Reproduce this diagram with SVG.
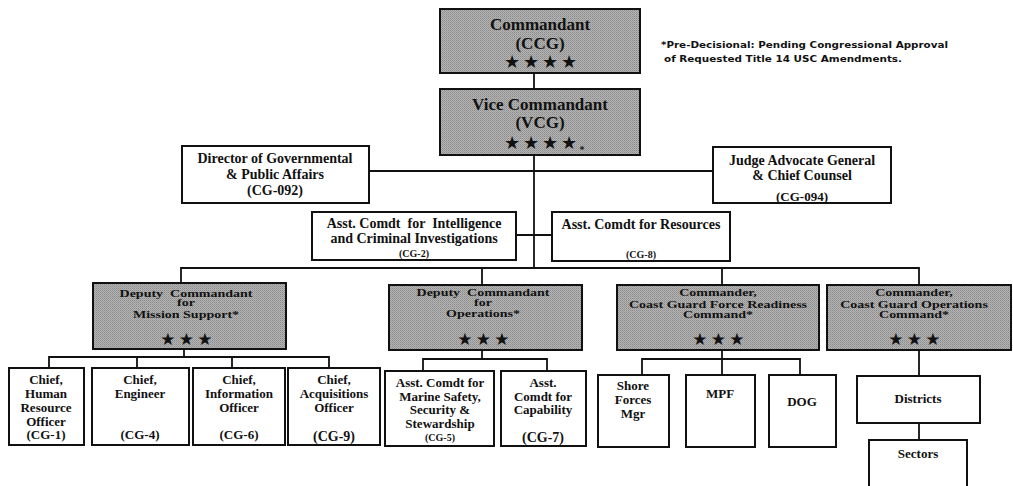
<svg xmlns="http://www.w3.org/2000/svg" width="1013" height="486" viewBox="0 0 1013 486">
<defs>
<pattern id="ht" width="2" height="2" patternUnits="userSpaceOnUse">
<rect width="2" height="2" fill="#b4b4b4"/>
<rect width="1" height="1" fill="#8a8a8a"/>
<rect x="1" y="1" width="1" height="1" fill="#9c9c9c"/>
</pattern>
</defs>
<style>
.b{fill:#fff;stroke:#111;stroke-width:2}
.g{fill:url(#ht);stroke:#111;stroke-width:2}
.c{fill:none;stroke:#111;stroke-width:1.8}
text{font-family:"Liberation Serif","Times New Roman",serif;font-weight:bold;fill:#111;text-anchor:middle;white-space:pre}
.t17{font-size:17px}
.t14{font-size:14px}
.t13{font-size:13px}
.t10{font-size:10px}
.st{font-family:"DejaVu Sans",sans-serif;font-weight:normal;font-size:18px;letter-spacing:2.9px}
.s3{font-family:"DejaVu Sans",sans-serif;font-weight:normal;font-size:17px;letter-spacing:3.3px}
.fn{font-family:"DejaVu Sans",sans-serif;font-size:9.5px;text-anchor:start}
</style>
<g id="connectors">
<path class="c" d="M534 73V89M534 155V268M369 171H713M516 235H552M181 283V268H919V285M482 268V285M722 268V285"/>
<path class="c" d="M184 349V357M49 368V357H329V368M137 357V368M232 357V368"/>
<path class="c" d="M482 350V359M423 371V359H547V371"/>
<path class="c" d="M722 350V359M642 375V359H800V375M722 359V375"/>
<path class="c" d="M919 350V376M919 423V440"/>
</g>
<g id="commandant">
<rect class="g" x="440" y="9" width="200" height="64"/>
<text class="t17" x="540" y="30">Commandant</text>
<text class="t17" x="540" y="49">(CCG)</text>
<text class="st" x="542" y="68">★★★★</text>
</g>
<g id="vice-commandant">
<rect class="g" x="440" y="89" width="200" height="66"/>
<text class="t17" x="540" y="110">Vice Commandant</text>
<text class="t17" x="540" y="128">(VCG)</text>
<text class="st" x="542" y="149">★★★★</text>
<text class="t10" x="582" y="153">*</text>
</g>
<g id="footnote">
<text class="fn" x="661" y="48" textLength="287" lengthAdjust="spacingAndGlyphs">*Pre-Decisional: Pending Congressional Approval</text>
<text class="fn" x="664" y="62" textLength="238" lengthAdjust="spacingAndGlyphs">of Requested Title 14 USC Amendments.</text>
</g>
<g id="director-public-affairs">
<rect class="b" x="182" y="146" width="187" height="57"/>
<text class="t14" x="275" y="163">Director of Governmental</text>
<text class="t14" x="275" y="179">&amp; Public Affairs</text>
<text class="t14" x="275" y="195">(CG-092)</text>
</g>
<g id="judge-advocate">
<rect class="b" x="713" y="147" width="178" height="56"/>
<text class="t14" x="802" y="165">Judge Advocate General</text>
<text class="t14" x="802" y="180">&amp; Chief Counsel</text>
<text class="t13" x="802" y="201">(CG-094)</text>
</g>
<g id="intelligence">
<rect class="b" x="312" y="212" width="204" height="48"/>
<text class="t14" x="414" y="228">Asst. Comdt  for  Intelligence</text>
<text class="t14" x="414" y="243">and Criminal Investigations</text>
<text class="t10" x="414" y="257">(CG-2)</text>
</g>
<g id="resources">
<rect class="b" x="552" y="212" width="178" height="49"/>
<text class="t14" x="641" y="229">Asst. Comdt for Resources</text>
<text class="t10" x="641" y="258">(CG-8)</text>
</g>
<g id="dc-mission-support">
<rect class="g" x="93" y="283" width="193" height="66"/>
<g transform="translate(186,0) scale(1,0.76)">
<text class="t14" x="0" y="391">Deputy  Commandant</text>
<text class="t14" x="0" y="403">for</text>
<text class="t14" x="0" y="418">Mission Support*</text>
</g>
<text class="s3" x="188" y="345">★★★</text>
</g>
<g id="dc-operations">
<rect class="g" x="389" y="285" width="193" height="65"/>
<g transform="translate(483,0) scale(1,0.76)">
<text class="t14" x="0" y="389">Deputy  Commandant</text>
<text class="t14" x="0" y="403">for</text>
<text class="t14" x="0" y="417">Operations*</text>
</g>
<text class="s3" x="485" y="345">★★★</text>
</g>
<g id="force-readiness">
<rect class="g" x="617" y="285" width="202" height="65"/>
<g transform="translate(718,0) scale(1,0.76)">
<text class="t14" x="0" y="389">Commander,</text>
<text class="t14" x="0" y="405">Coast Guard Force Readiness</text>
<text class="t14" x="0" y="418">Command*</text>
</g>
<text class="s3" x="720" y="345">★★★</text>
</g>
<g id="operations-command">
<rect class="g" x="827" y="285" width="184" height="65"/>
<g transform="translate(914,0) scale(1,0.76)">
<text class="t14" x="0" y="389">Commander,</text>
<text class="t14" x="0" y="405">Coast Guard Operations</text>
<text class="t14" x="0" y="418">Command*</text>
</g>
<text class="s3" x="916" y="345">★★★</text>
</g>
<g id="cg1">
<rect class="b" x="9" y="368" width="75" height="77"/>
<text class="t13" x="46" y="384">Chief,</text>
<text class="t13" x="46" y="398">Human</text>
<text class="t13" x="46" y="412">Resource</text>
<text class="t13" x="46" y="426">Officer</text>
<text class="t13" x="46" y="439">(CG-1)</text>
</g>
<g id="cg4">
<rect class="b" x="92" y="368" width="97" height="77"/>
<text class="t13" x="140" y="384">Chief,</text>
<text class="t13" x="140" y="398">Engineer</text>
<text class="t13" x="140" y="439">(CG-4)</text>
</g>
<g id="cg6">
<rect class="b" x="193" y="368" width="92" height="77"/>
<text class="t13" x="239" y="384">Chief,</text>
<text class="t13" x="239" y="398">Information</text>
<text class="t13" x="239" y="412">Officer</text>
<text class="t13" x="239" y="439">(CG-6)</text>
</g>
<g id="cg9">
<rect class="b" x="288" y="368" width="92" height="77"/>
<text class="t13" x="334" y="384">Chief,</text>
<text class="t13" x="334" y="398">Acquisitions</text>
<text class="t13" x="334" y="412">Officer</text>
<text class="t14" x="334" y="441">(CG-9)</text>
</g>
<g id="cg5">
<rect class="b" x="385" y="371" width="109" height="75"/>
<text class="t13" x="440" y="387">Asst. Comdt for</text>
<text class="t13" x="440" y="401">Marine Safety,</text>
<text class="t13" x="440" y="414">Security &amp;</text>
<text class="t13" x="440" y="428">Stewardship</text>
<text class="t10" x="440" y="441">(CG-5)</text>
</g>
<g id="cg7">
<rect class="b" x="501" y="371" width="85" height="75"/>
<text class="t13" x="543" y="387">Asst.</text>
<text class="t13" x="543" y="401">Comdt for</text>
<text class="t13" x="543" y="414">Capability</text>
<text class="t14" x="543" y="442">(CG-7)</text>
</g>
<g id="shore-forces">
<rect class="b" x="598" y="375" width="71" height="72"/>
<text class="t13" x="633" y="390">Shore</text>
<text class="t13" x="633" y="404">Forces</text>
<text class="t13" x="633" y="418">Mgr</text>
</g>
<g id="mpf">
<rect class="b" x="686" y="375" width="69" height="72"/>
<text class="t13" x="720" y="398">MPF</text>
</g>
<g id="dog">
<rect class="b" x="769" y="375" width="67" height="72"/>
<text class="t13" x="802" y="406">DOG</text>
</g>
<g id="districts">
<rect class="b" x="857" y="376" width="123" height="47"/>
<text class="t13" x="918" y="403">Districts</text>
</g>
<g id="sectors">
<rect class="b" x="869" y="440" width="98" height="52"/>
<text class="t13" x="918" y="458">Sectors</text>
</g>
</svg>
